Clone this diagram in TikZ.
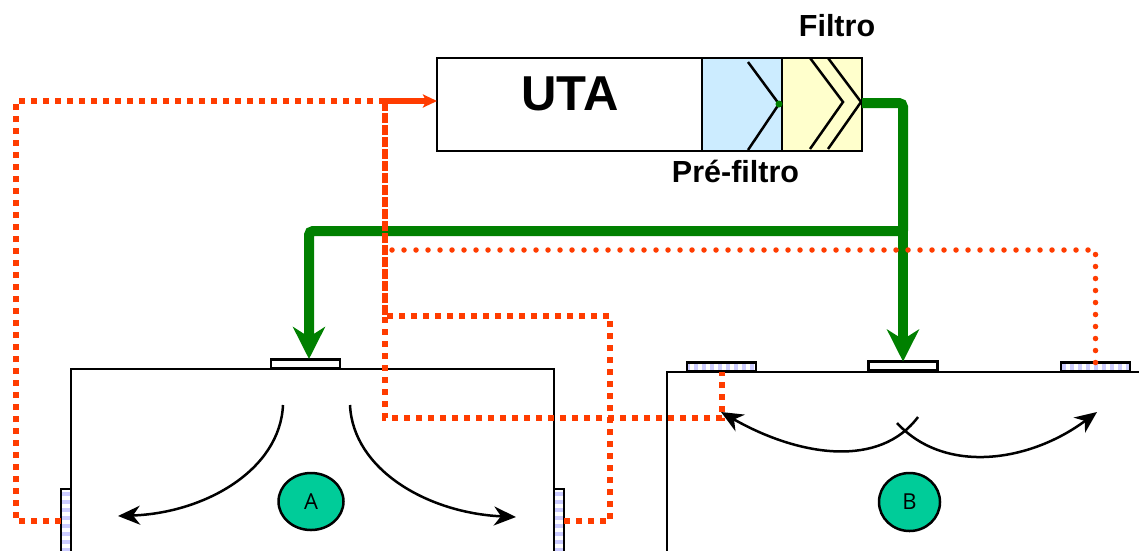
\documentclass[tikz,border=0pt]{standalone}
\usepackage{fontspec}
\setmainfont{Liberation Sans}
\newfontfamily\roomfont{Open Sans}
\usetikzlibrary{positioning,arrows.meta,patterns.meta,shapes.geometric}

\begin{document}
\begin{tikzpicture}[x=1pt,y=-1pt,
    main/.style = {draw, line width=2.5pt, inner sep=0pt, outer sep=0pt, minimum height=93pt},
    caption/.style = {font=\bfseries\fontsize{30.5}{33}\selectfont, inner sep=0pt},
    vent/.style = {draw, line width=2.5pt, fill=white, inner sep=0pt, outer sep=0pt, minimum width=69pt, minimum height=9pt},
    venth/.style = {draw, line width=2.5pt, inner sep=0pt, outer sep=0pt, minimum width=69pt, minimum height=9pt,
        pattern={Lines[angle=90,distance=8pt,line width=4pt]}, pattern color=hatch},
    ventv/.style = {draw, line width=2.5pt, inner sep=0pt, outer sep=0pt, minimum width=10pt, minimum height=64pt,
        pattern={Lines[angle=0,distance=8pt,line width=4pt]}, pattern color=hatch},
    room/.style = {draw, ellipse, line width=2.5pt, fill=roomgreen, inner sep=0pt, font=\roomfont\fontsize{22}{24}\selectfont},
    supply/.style = {draw=ductgreen, line width=10pt, rounded corners=4pt},
    dropa/.style = {supply, -{Stealth[length=32pt,width=32pt,inset=10pt]}},
    extract/.style = {draw=extractred, line width=6pt, dash pattern=on 6pt off 6pt},
    extractb/.style = {draw=extractred, line width=5.5pt, line cap=round, dash pattern=on 0pt off 12pt},
    flow/.style = {line width=2.5pt, -{Stealth[length=22pt,width=19pt,inset=7pt]}}]
    \definecolor{ductgreen}{HTML}{008000}
    \definecolor{extractred}{HTML}{FF3C00}
    \definecolor{roomgreen}{HTML}{00CC99}
    \definecolor{hatch}{HTML}{CCCCFF}
    \definecolor{preblue}{HTML}{CCECFF}
    \definecolor{filteryellow}{HTML}{FFFFCC}
    \useasboundingbox (0,0) rectangle (1139,550);
    \clip (0,0) rectangle (1139,550);

    \node[main, minimum width=265pt] (uta) at (569.5,104.5) {};
    \node[main, minimum width=80pt, fill=preblue, right=0pt of uta] (pre) {};
    \node[main, minimum width=80pt, fill=filteryellow, right=0pt of pre] (filtre) {};
    \node[font=\bfseries\fontsize{49}{52}\selectfont, inner sep=0pt] (utatext) at (570,94) {UTA};
    \node[caption] (filtretext) at (837,26) {Filtro};
    \node[caption] (pretext) at (735.5,171) {Pré-filtro};

    \draw[line width=2.5pt] (748,62) -- (779,104) -- (748,150);
    \draw[line width=2.5pt] (810,58) -- (843,102) -- (810,149);
    \draw[line width=2.5pt] (828,58) -- (861,102) -- (828,149);
    \fill[ductgreen] (779,104) circle (3.5pt);

    \draw[line width=2.5pt] (71,560) -- (71,369) -- (554,369) -- (554,560);
    \draw[line width=2.5pt] (667,560) -- (667,372) -- (1145,372);

    \node[vent] (ventaa) at (305.5,364) {};
    \node[ventv] (vental) at (66,521) {};
    \node[ventv] (ventar) at (559,521) {};
    \node[venth] (ventba) at (721.5,367) {};
    \node[vent] (ventbb) at (903,366) {};
    \node[venth] (ventbc) at (1095.5,367) {};

    \node[room, minimum width=65pt, minimum height=57pt] (A) at (311,501.5) {\raisebox{-4pt}{A}};
    \node[room, minimum width=61pt, minimum height=58pt] (B) at (909.5,502) {\raisebox{-4pt}{B}};

    \coordinate (coude) at (903,103);
    \coordinate (tee) at (903,231);
    \coordinate (ouest) at (16,101);
    \coordinate (retour) at (385,101);
    \coordinate (bas) at (385,418);
    \coordinate (piqa) at (385,316);
    \coordinate (coudea) at (610,316);
    \coordinate (piqb) at (392,250);
    \coordinate (chutea) at (309,359);

    \draw[supply] (filtre.east |- coude) -- (coude) -- (tee);
    \draw[dropa] (tee) -- (ventbb.north);
    \draw[dropa] (tee) -| (chutea);

    \draw[extract] (vental.west) -| (ouest) -- (retour);
    \draw[extract] (retour) -- (bas) -| (ventba.south);
    \draw[extract] (ventar.east) -| (coudea) -- (piqa);
    \draw[extract, dash phase=11pt] (piqa) -- (retour);
    \draw[draw=extractred, line width=6pt, -{Stealth[length=14pt,width=13pt,inset=3pt]}] (retour) -- (uta.west |- retour);
    \draw[extractb] (ventbc.north) |- (piqb);

    \draw[flow] (283,405) .. controls (280,470) and (205,513) .. (118,516);
    \draw[flow] (350,405) .. controls (353,470) and (428,513) .. (516,517);
    \draw[flow] (918,417) .. controls (880,468) and (800,457) .. (721,412);
    \draw[flow] (897,423) .. controls (945,475) and (1030,462) .. (1097,412);
\end{tikzpicture}
\end{document}
